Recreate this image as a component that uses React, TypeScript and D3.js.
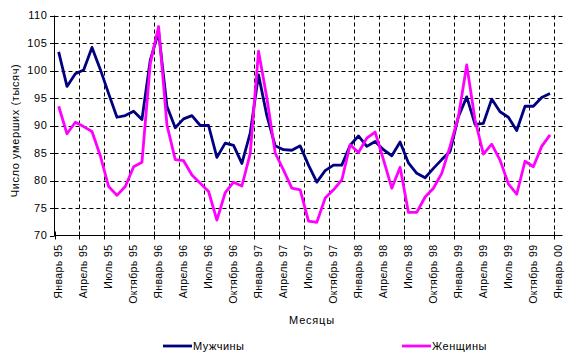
import React from "react";
import * as d3 from "d3";

// Monthly categories Jan 1995 .. Jan 2000 (61 categories, data through Dec 1999)
const monthNames = ["Январь", "Февраль", "Март", "Апрель", "Май", "Июнь", "Июль", "Август", "Сентябрь", "Октябрь", "Ноябрь", "Декабрь"];
const years = ["95", "96", "97", "98", "99", "00"];
const categories: string[] = [];
years.forEach((y) => monthNames.forEach((m) => categories.push(`${m} ${y}`)));
const allCats = categories.slice(0, 61);

const men = [
  103.4, 97.1, 99.4, 100.1, 104.2, 100.2, 95.8, 91.5, 91.8, 92.6, 91.1, 101.9,
  107.0, 93.5, 89.6, 91.2, 91.8, 90.0, 90.0, 84.2, 86.8, 86.4, 83.1, 88.6,
  99.2, 91.8, 86.3, 85.6, 85.5, 86.3, 82.8, 79.7, 81.8, 82.8, 82.8, 86.4,
  88.1, 86.2, 87.1, 85.6, 84.5, 87.0, 83.2, 81.3, 80.5, 82.2, 83.8, 85.3,
  91.6, 95.2, 90.2, 90.4, 94.8, 92.5, 91.5, 89.1, 93.5, 93.5, 95.1, 95.8,
];
const women = [
  93.5, 88.5, 90.6, 89.8, 88.9, 84.5, 78.9, 77.3, 78.9, 82.5, 83.3, 101.3,
  108.0, 90.1, 83.8, 83.6, 81.0, 79.5, 78.0, 72.8, 77.8, 79.7, 79.0, 84.9,
  103.5, 95.0, 85.0, 81.9, 78.6, 78.3, 72.6, 72.4, 76.8, 78.3, 80.1, 86.5,
  85.1, 87.7, 88.8, 83.8, 78.6, 82.4, 74.2, 74.2, 77.0, 78.6, 81.3, 86.2,
  91.6, 101.0, 91.0, 84.8, 86.6, 83.7, 79.4, 77.5, 83.5, 82.5, 86.2, 88.3,
];
const yTicks = [70, 75, 80, 85, 90, 95, 100, 105, 110];
const seriesNames = ["Мужчины", "Женщины"];
const seriesColors = ["#000080", "#FF00FF"];
const yTitle = "Число умерших (тысяч)";
const xTitle = "Месяцы";

const W = 577;
const H = 362;
const left = 54.5;
const right = 562.5;
const top = 15.5;
const bottom = 235.5;

export default function App() {
  const x = d3.scaleBand<string>().domain(allCats).range([left, right]).padding(0);
  const y = d3.scaleLinear().domain([70, 110]).range([bottom, top]);
  const bw = x.bandwidth();
  const tickCats = allCats.filter((_, i) => i % 3 === 0);
  const line = d3
    .line<number>()
    .x((_, i) => (x(allCats[i]) as number) + bw / 2)
    .y((d) => y(d));
  const font = "'Liberation Sans', Arial, sans-serif";
  const series = [men, women];

  return (
    <svg width={W} height={H} style={{ position: "absolute", left: 0, top: 0, background: "#fff" }} fontFamily={font}>
      {/* horizontal gridlines */}
      {yTicks.filter((t) => t !== 70).map((t) => (
        <line key={"h" + t} x1={left} x2={right} y1={Math.round(y(t)) + 0.5} y2={Math.round(y(t)) + 0.5} stroke="#000" strokeDasharray="4,3" strokeWidth={1} />
      ))}
      {/* vertical gridlines */}
      {tickCats.slice(1).map((c) => {
        const xx = Math.round(x(c) as number) + 0.5;
        return <line key={"v" + c} x1={xx} x2={xx} y1={top} y2={bottom} stroke="#000" strokeDasharray="4,3" strokeWidth={1} />;
      })}
      {/* axes */}
      <line x1={left} x2={left} y1={top} y2={bottom + 0.5} stroke="#000" strokeWidth={1} />
      <line x1={left} x2={right} y1={bottom} y2={bottom} stroke="#000" strokeWidth={1} />
      {yTicks.map((t) => (
        <g key={"yt" + t}>
          <line x1={left - 4.5} x2={left} y1={Math.round(y(t)) + 0.5} y2={Math.round(y(t)) + 0.5} stroke="#000" />
          <text x={left - 7} y={y(t)} dy="0.36em" textAnchor="end" fontSize={11} letterSpacing={0.6}>
            {t}
          </text>
        </g>
      ))}
      {tickCats.map((c) => {
        const xx = Math.round(x(c) as number) + 0.5;
        const cx = (x(c) as number) + bw / 2;
        return (
          <g key={"xt" + c}>
            <line x1={xx} x2={xx} y1={bottom - 4} y2={bottom + 4} stroke="#000" />
            <text transform={`translate(${cx + 3.5},${bottom + 9}) rotate(-90)`} textAnchor="end" fontSize={10.5} letterSpacing={0.4}>
              {c}
            </text>
          </g>
        );
      })}
      {/* axis titles */}
      <text transform={`translate(19,${(top + bottom) / 2 + 5}) rotate(-90)`} textAnchor="middle" fontSize={11} letterSpacing={0.6}>
        {yTitle}
      </text>
      <text x={312} y={324} textAnchor="middle" fontSize={11} letterSpacing={0.8}>
        {xTitle}
      </text>
      {/* series */}
      {series.map((s, i) => (
        <path key={"s" + i} d={line(s) || ""} fill="none" stroke={seriesColors[i]} strokeWidth={2.8} strokeLinejoin="round" />
      ))}
      {/* legend */}
      {seriesNames.map((n, i) => {
        const lx = i === 0 ? 163 : 402;
        return (
          <g key={"lg" + i}>
            <line x1={lx} x2={lx + 29} y1={346} y2={346} stroke={seriesColors[i]} strokeWidth={2.8} />
            <text x={lx + 30} y={346} dy="0.36em" fontSize={11} letterSpacing={0.5}>
              {n}
            </text>
          </g>
        );
      })}
    </svg>
  );
}
